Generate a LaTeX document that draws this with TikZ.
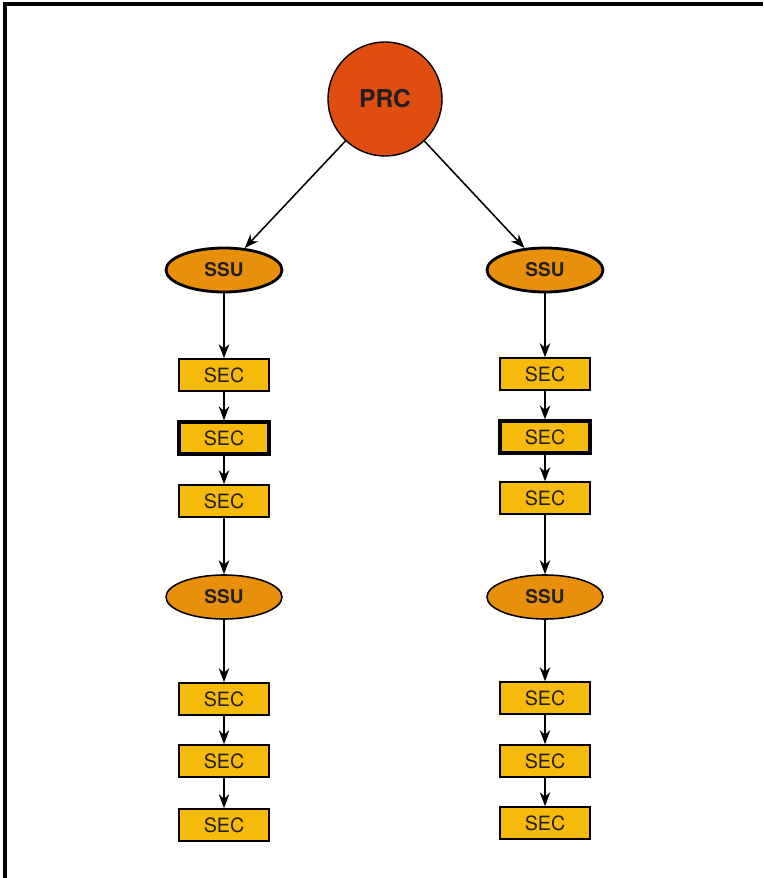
\documentclass[tikz,border=0pt]{standalone}
\usepackage{fontspec}
\setmainfont{TeX Gyre Heros}
\usetikzlibrary{positioning,shapes.geometric,arrows.meta}
\tikzset{>={Stealth[length=10pt,width=7.5pt]}}
\definecolor{prcred}{HTML}{DF4D10}
\definecolor{ssuorange}{HTML}{E8900C}
\definecolor{secgold}{HTML}{F5BA0A}
\definecolor{txtgray}{HTML}{231F20}
\tikzset{
  prcnode/.style={circle,draw=black,line width=1pt,fill=prcred,text=txtgray,
    minimum size=2.85cm,inner sep=0pt,font=\bfseries\fontsize{17.5}{19}\selectfont},
  ssunode/.style={ellipse,draw=black,line width=1.1pt,fill=ssuorange,text=txtgray,
    minimum width=2.9cm,minimum height=1.1cm,inner sep=0pt,font=\bfseries\fontsize{13.5}{15}\selectfont},
  secnode/.style={rectangle,draw=black,line width=1.1pt,fill=secgold,text=txtgray,
    minimum width=2.25cm,minimum height=0.8cm,inner sep=0pt,font=\fontsize{14}{16}\selectfont},
  link/.style={->,line width=1.1pt}
}

\begin{document}
\begin{tikzpicture}[x=0.025cm,y=-0.025cm]
\useasboundingbox (0,0) rectangle (763,878);
\draw[line width=2.2pt] (5,878) -- (5,4) -- (763,4);

\node[prcnode] (prc) at (385,99) {PRC};

% left column
\node[ssunode,line width=2pt] (ssuL1) at (224,270) {SSU};
\node[secnode] (secL1) at (224,375) {SEC};
\node[secnode,line width=2.2pt] (secL2) at (224,438) {SEC};
\node[secnode] (secL3) at (224,501) {SEC};
\node[ssunode] (ssuL2) at (224,597) {SSU};
\node[secnode] (secL4) at (224,699) {SEC};
\node[secnode] (secL5) at (224,761) {SEC};
\node[secnode] (secL6) at (224,825) {SEC};

% right column
\node[ssunode,line width=2pt] (ssuR1) at (545,270) {SSU};
\node[secnode] (secR1) at (545,374) {SEC};
\node[secnode,line width=2.2pt] (secR2) at (545,437) {SEC};
\node[secnode] (secR3) at (545,498) {SEC};
\node[ssunode] (ssuR2) at (545,597) {SSU};
\node[secnode] (secR4) at (545,698) {SEC};
\node[secnode] (secR5) at (545,761) {SEC};
\node[secnode] (secR6) at (545,823) {SEC};

\draw[link] (prc) -- (ssuL1);
\draw[link] (prc) -- (ssuR1);
\foreach \c in {L,R} {
  \draw[link] (ssu\c1) -- (sec\c1);
  \draw[link] (sec\c1) -- (sec\c2);
  \draw[link] (sec\c2) -- (sec\c3);
  \draw[link] (sec\c3) -- (ssu\c2);
  \draw[link] (ssu\c2) -- (sec\c4);
  \draw[link] (sec\c4) -- (sec\c5);
  \draw[link] (sec\c5) -- (sec\c6);
}
\end{tikzpicture}
\end{document}
